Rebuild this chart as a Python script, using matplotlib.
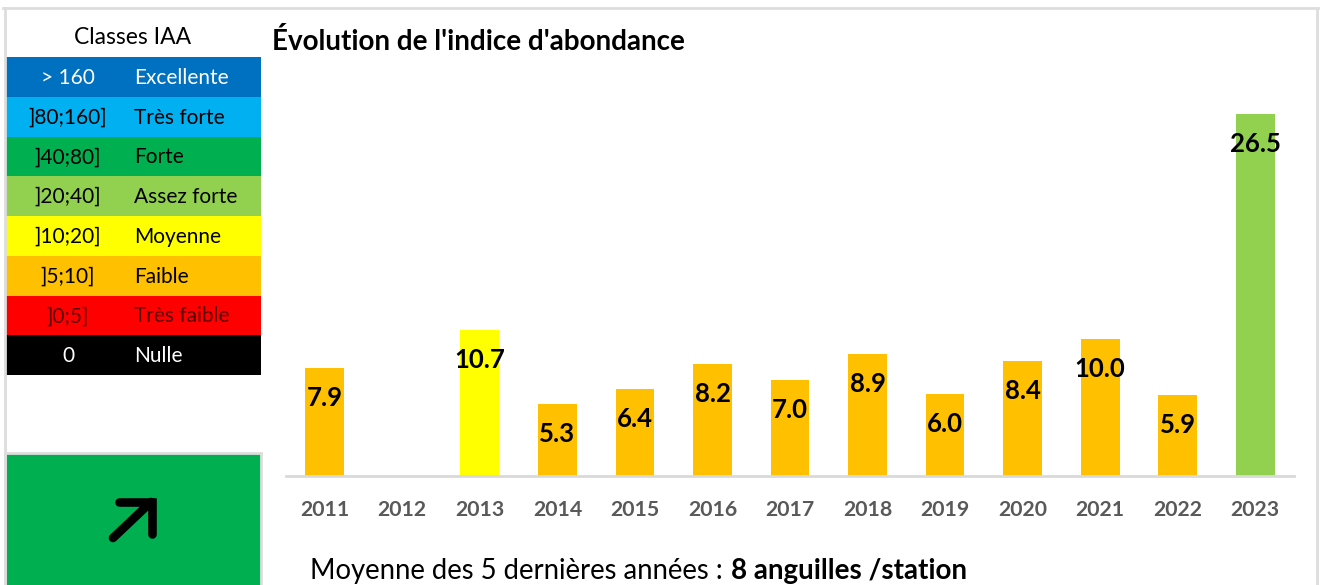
import numpy as np
import matplotlib
matplotlib.use("Agg")
import matplotlib.pyplot as plt
from matplotlib.patches import Rectangle
from matplotlib.lines import Line2D

plt.rcParams['font.family'] = ['Lato', 'DejaVu Sans']

# ---- data ----
years = ['2011', '2012', '2013', '2014', '2015', '2016', '2017', '2018',
         '2019', '2020', '2021', '2022', '2023']
iaa = [7.9, np.nan, 10.7, 5.3, 6.4, 8.2, 7.0, 8.9, 6.0, 8.4, 10.0, 5.9, 26.5]

class_ranges = ['> 160', ']80;160]', ']40;80]', ']20;40]', ']10;20]', ']5;10]', ']0;5]', '0']
class_names = ['Excellente', 'Très forte', 'Forte', 'Assez forte', 'Moyenne',
               'Faible', 'Très faible', 'Nulle']
class_lower = [160, 80, 40, 20, 10, 5, 0, None]
class_colors = ['#0070C0', '#00B0F0', '#00B050', '#92D050', '#FFFF00',
                '#FFC000', '#FF0000', '#000000']
class_text_colors = ['white', 'black', 'black', 'black', 'black', 'black',
                     '#5A0000', 'white']

title = "Évolution de l'indice d'abondance"
mean_label = "Moyenne des 5 dernières années : "
mean_value = "8 anguilles /station"
trend_color = '#00B050'


def class_color(v):
    for lo, c in zip(class_lower, class_colors):
        if lo is None:
            return c
        if v > lo:
            return c
    return class_colors[-1]


W, H = 1320, 585
fig = plt.figure(figsize=(W / 100, H / 100), dpi=100)
fig.patch.set_facecolor('white')

# overlay axes in pixel coordinates
ov = fig.add_axes([0, 0, 1, 1])
ov.set_xlim(0, W)
ov.set_ylim(H, 0)
ov.axis('off')

# outer frame
grey = '#DDDDDD'
ov.add_line(Line2D([3, 1318], [8, 8], color=grey, lw=2))
ov.add_line(Line2D([4.5, 4.5], [8, H], color=grey, lw=2))
ov.add_line(Line2D([1317, 1317], [8, H], color=grey, lw=2))

# legend
ov.text(133, 38, 'Classes IAA', ha='center', va='center', fontsize=16.5, color='black')
top, bottom = 57, 375
rh = (bottom - top) / len(class_ranges)
for i, (rng, name, col, tcol) in enumerate(zip(class_ranges, class_names,
                                                class_colors, class_text_colors)):
    y0 = top + i * rh
    ov.add_patch(Rectangle((6, y0), 255, rh, facecolor=col, edgecolor='none'))
    yc = y0 + rh / 2 + 1
    ov.text(68, yc, rng, ha='center', va='center', fontsize=15, color=tcol)
    ov.text(134, yc, name, ha='left', va='center', fontsize=15, color=tcol)

# trend box
ov.add_patch(Rectangle((4.5, 452.5), 256, 140, facecolor=trend_color,
                       edgecolor=grey, lw=2))
ov.add_line(Line2D([113, 151], [538, 502], color='black', lw=6.2,
                   solid_capstyle='round', solid_joinstyle='round'))
ov.add_line(Line2D([119, 152, 152], [502, 502, 534], color='black', lw=6.2,
                   solid_capstyle='round', solid_joinstyle='miter'))

# title
ov.text(272, 42, title, ha='left', va='center', fontsize=20, fontweight='bold',
        color='black')

# bottom text
ov.text(310, 571, mean_label, ha='left', va='center', fontsize=19.8, color='black')
ov.text(731, 571, mean_value, ha='left', va='center', fontsize=20,
        fontweight='bold', color='black')

# main bar chart
ax = fig.add_axes([286 / W, (H - 476) / H, (1294 - 286) / W, 382.5 / H])
x = np.arange(len(years))
vals = np.array(iaa, dtype=float)
colors = [class_color(v) if not np.isnan(v) else 'none' for v in vals]
ax.bar(x, np.nan_to_num(vals), width=0.5, color=colors)
for xi, v in zip(x, vals):
    if np.isnan(v):
        continue
    ax.annotate(f'{v:.1f}', (xi, v), xytext=(0, -21.6), textcoords='offset points',
                ha='center', va='center', fontsize=18.5, fontweight='bold',
                color='black')
ax.set_xlim(-0.5, len(years) - 0.5)
ax.set_ylim(0, 28)
ax.set_xticks(x)
ax.set_xticklabels(years, fontsize=15.3, fontweight='bold', color='#595959')
ax.tick_params(axis='x', length=0, pad=17)
ax.set_yticks([])
for s in ['top', 'right', 'left']:
    ax.spines[s].set_visible(False)
ax.spines['bottom'].set_color('#D9D9D9')
ax.spines['bottom'].set_linewidth(2)
ax.patch.set_alpha(0)

fig.savefig('out.png', dpi=100, facecolor='white')
